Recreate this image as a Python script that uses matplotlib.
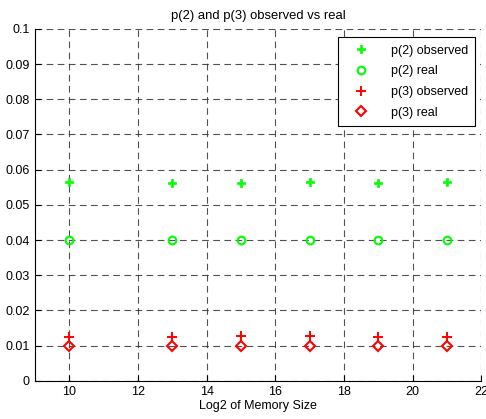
import matplotlib
matplotlib.use('Agg')
import matplotlib.pyplot as plt

# log2 of memory size and the measured/expected probabilities
mem_log2 = [10, 13, 15, 17, 19, 21]
p2_observed = [0.0565, 0.0561, 0.0561, 0.0565, 0.0561, 0.0565]
p2_real = [0.04, 0.04, 0.04, 0.04, 0.04, 0.04]
p3_observed = [0.0126, 0.0124, 0.0127, 0.0127, 0.0124, 0.0126]
p3_real = [0.01, 0.01, 0.01, 0.01, 0.01, 0.01]

xticks = [10, 12, 14, 16, 18, 20, 22]
yticks = [0, 0.01, 0.02, 0.03, 0.04, 0.05, 0.06, 0.07, 0.08, 0.09, 0.1]
ytick_labels = ['0', '0.01', '0.02', '0.03', '0.04', '0.05', '0.06', '0.07', '0.08', '0.09', '0.1']

plt.rcParams['font.family'] = ['Liberation Sans', 'DejaVu Sans']
plt.rcParams['font.size'] = 9

fig = plt.figure(figsize=(4.86, 4.19), dpi=100)
ax = fig.add_axes([0.072, 0.091, 0.918, 0.84])

ax.plot(mem_log2, p2_observed, linestyle='none', marker='P', color='#00ff00',
        markersize=5.5, markeredgewidth=0.5, label='p(2) observed')
ax.plot(mem_log2, p2_real, linestyle='none', marker='o', color='#00ff00',
        markerfacecolor='none', markersize=5.5, markeredgewidth=1.5, label='p(2) real')
ax.plot(mem_log2, p3_observed, linestyle='none', marker='+', color='red',
        markersize=6.5, markeredgewidth=1.4, label='p(3) observed')
ax.plot(mem_log2, p3_real, linestyle='none', marker='D', color='red',
        markerfacecolor='none', markersize=5, markeredgewidth=1.5, label='p(3) real')

ax.set_xlim(9, 22)
ax.set_ylim(0, 0.1)
ax.set_xticks(xticks)
ax.set_yticks(yticks)
ax.set_yticklabels(ytick_labels)
ax.grid(True, color='#333333', linestyle=(0, (6, 4)), linewidth=0.8, alpha=0.85)
ax.set_axisbelow(True)
ax.spines['top'].set_visible(False)
ax.spines['right'].set_visible(False)
ax.tick_params(direction='in', length=4, width=0.8, pad=4, labelsize=9)

ax.set_title('p(2) and p(3) observed vs real', fontsize=9.4, pad=7)
ax.set_xlabel('Log2 of Memory Size', fontsize=9, labelpad=1)

leg = ax.legend(loc='upper right', bbox_to_anchor=(0.987, 0.977), borderaxespad=0,
                fancybox=False, edgecolor='black', framealpha=1, borderpad=0.6,
                labelspacing=0.7, handletextpad=1.2, handlelength=2.4, fontsize=9)
leg.get_frame().set_linewidth(0.8)

fig.savefig('out.png', dpi=100)
